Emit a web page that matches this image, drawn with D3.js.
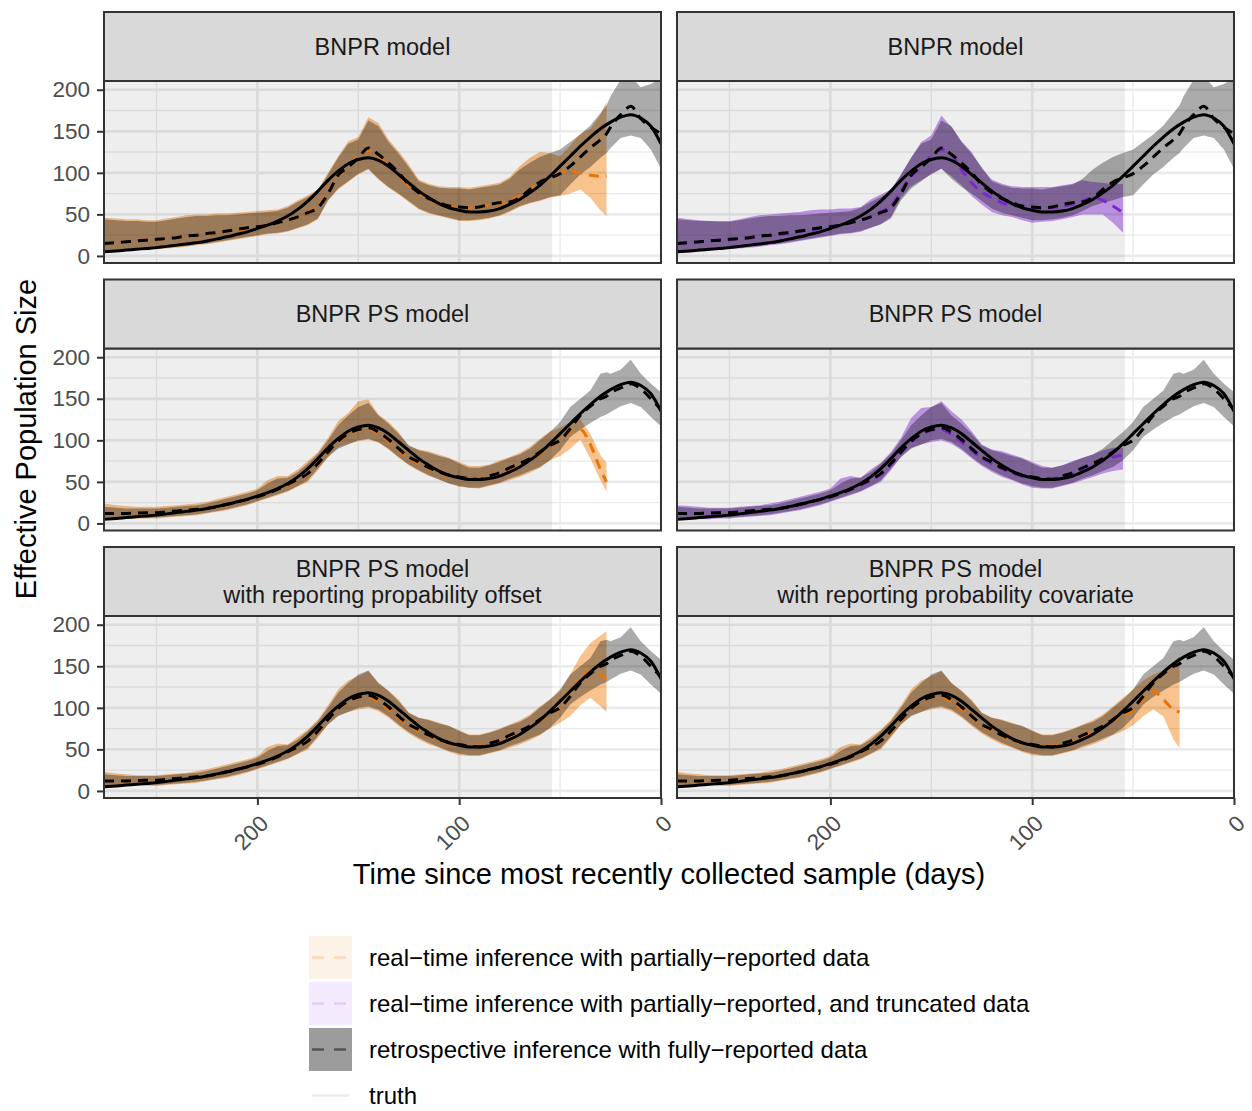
<!DOCTYPE html>
<html><head><meta charset="utf-8">
<script src="https://cdn.jsdelivr.net/npm/d3@7"></script>
<style>
body{margin:0;background:#fff;}
svg{display:block;font-family:"Liberation Sans",Arial,Helvetica,sans-serif;}
</style></head><body>
<svg id="chart" width="1252" height="1111"></svg>
<script>
// ---------------- DATA (days before most recent sample) ----------------
const days = [276,270,265,260,255,250,245,240,235,230,225,220,215,210,205,200,195,190,185,180,175,170,165,160,155,150,145,140,135,130,125,120,115,110,105,100,95,90,85,80,75,70,65,60,55,50,45,40,35,30,27,25,20,15,10,5,0];

const truth = [5,6,7,8,9,10,11.5,13,14.5,16, 18,20.5,23,26,29,33,37,42,48,56, 66,78,91,102,111,116,118,115,108,98, 88,78,70,63,58,55,53,53,54,57, 62,68,76,85,96,108,120,132,143,153, 158,161,167,170,166,156,135];

// retrospective inference, BNPR model (fully-reported data)
const retroBNPR     = [15,16,17,18,19,20,21,22,24,25, 27,28,30,32,34,35,37,40,43,47, 52,58,75,97,107,118,130,122,112,100, 86,76,69,64,60,59,58,59,62,64, 65,70,80,89,94,99,108,119,130,140, 147,155,170,180,165,155,147];
const retroBNPRLow  = [5,6,7,8,8,9,10,11,12,14, 15,17,19,21,23,25,27,28,30,34, 38,45,67,81,90,99,105,93,83,75, 66,57,52,49,46,43,43,44,46,49, 54,60,64,67,71,73,86,98,107,118, 124,130,142,145,142,128,105];
const retroBNPRHigh = [44,43,42,42,41,41,43,45,47,48, 48,49,49,50,51,52,53,54,58,65, 71,78,98,118,135,140,163,156,137,123, 107,90,85,82,81,81,80,82,84,86, 93,104,112,119,124,128,137,146,157,172, 181,192,212,216,203,207,214];

// retrospective inference, BNPR PS model (fully-reported data)
const retroPS     = [12,12,12,12.5,13,13,14,15,16,17, 18,20,23,26,29,32,36,41,47,53, 60,72,86,99,108,113,115,110,101,90, 80,74,67,62,58,56,54,53,57,61, 67,72,78,86,94,100,114,130,141,150, 153,157,163,168,162,150,137];
const retroPSLow  = [7,7,7,7,7,7,8,9,10,11, 13,15,17,20,23,27,31,35,39,45, 52,66,80,90,95,100,102,98,90,80, 71,64,58,53,48,45,43,43,46,49, 54,58,63,68,76,88,104,113,121,128, 131,134,141,145,140,128,117];
const retroPSHigh = [20,19,18,18,18,18,19,20,21,22, 24,27,30,33,36,40,48,54,55,62, 72,84,100,118,130,140,145,130,120,108, 94,88,85,81,78,72,67,67,70,74, 79,83,90,100,110,122,140,150,160,180, 182,180,185,197,180,168,158];

// real-time inference, BNPR (partially-reported) - top left
const rtBNPR     = [15,16,17,18,19,20,21,22,23,25, 26,28,30,31,33,35,37,40,43,47, 53,60,78,96,108,120,127,120,108,97, 85,76,68,63,60,58,58,59,61,63, 66,72,80,89,93,100,102,100,97,96, 96];
const rtBNPRLow  = [4,5,6,7,7,8,9,10,11,13, 14,16,18,20,22,24,26,27,29,33, 37,44,66,80,89,98,104,92,82,74, 65,56,51,48,45,42,42,43,45,48, 53,59,63,66,70,72,75,80,70,55, 48];
const rtBNPRHigh = [46,45,44,44,43,43,45,47,49,50, 50,51,51,52,53,54,55,56,60,67, 73,80,100,120,138,143,167,160,140,126, 110,92,87,84,83,83,82,84,86,88, 95,108,118,125,124,120,133,147,153,170, 185];

// real-time inference, BNPR (partially-reported and truncated) - top right
const rtBNPRTr     = [15,16,17,18,19,20,21,22,23,25, 26,28,30,31,33,35,37,40,43,47, 53,60,78,96,108,120,128,122,104,88, 77,70,64,61,59,58,58,58,60,62, 66,70,67,60,52];
const rtBNPRTrLow  = [3,4,5,6,7,8,9,10,11,13, 14,16,18,20,22,24,26,27,29,34, 38,47,70,84,91,98,105,96,85,72, 62,53,49,47,43,40,41,42,44,47, 50,50,50,40,28];
const rtBNPRTrHigh = [46,44,43,42,42,42,44,47,49,50, 51,52,53,55,56,56,57,57,59,68, 74,80,98,118,137,145,169,155,138,125, 105,92,87,84,83,83,83,83,85,87, 91,89,88,86,87];

// real-time inference, BNPR PS (partially-reported) - middle left
const rtPS     = [12,12,12,12.5,13,13,14,15,16,17, 18,20,23,26,29,32,36,41,46,52, 59,71,85,98,107,112,113,108,99,88, 79,72,66,61,57,55,54,54,57,60, 65,70,76,84,92,100,110,113,95,65, 50];
const rtPSLow  = [6,6,6,6,6,6,7,8,9,10, 12,14,16,19,22,26,30,34,38,44, 50,64,80,92,96,99,101,97,89,79, 70,63,57,53,48,44,43,42,45,48, 52,56,61,67,76,81,90,101,78,52, 38];
const rtPSHigh = [24,22,21,20,20,20,21,22,23,24, 26,29,32,35,38,42,52,57,57,65, 75,86,103,123,133,147,149,131,122,110, 93,89,87,83,79,74,69,69,71,76, 80,85,92,102,111,115,122,125,108,82, 73];

// real-time inference, BNPR PS (partially-reported and truncated) - middle right
const rtPSTr     = [12,12,12,12.5,13,13,14,15,16,17, 18,20,23,26,29,32,36,41,46,52, 59,71,85,98,107,112,113,107,98,88, 79,72,66,61,57,55,54,54,56,59, 64,69,75,80,82];
const rtPSTrLow  = [5,5,5,5,6,6,7,8,9,10, 12,14,16,19,22,26,30,34,38,44, 50,64,80,91,95,98,100,96,88,78, 69,62,56,52,47,43,42,42,45,48, 52,56,60,63,65];
const rtPSTrHigh = [22,21,20,19,19,19,20,21,22,24, 26,29,32,35,38,42,54,57,55,65, 73,86,103,127,139,140,147,135,125,111, 95,89,87,83,79,74,69,67,70,75, 79,83,88,91,91];

// real-time inference, BNPR PS with reporting probability offset - bottom left
const rtOff     = [12,12,12,12.5,13,13,14,15,16,17, 18,20,23,26,29,32,36,41,46,52, 59,71,85,98,107,112,113,107,98,88, 79,72,66,61,57,55,54,54,57,60, 66,71,77,85,92,100,118,135,145,140, 135];
const rtOffLow  = [6,6,6,6,6,6,7,8,9,10, 12,14,16,19,22,26,30,34,38,44, 50,64,80,91,95,98,100,96,88,78, 69,62,56,52,47,43,42,42,45,48, 52,56,61,67,75,82,90,103,112,102, 95];
const rtOffHigh = [23,21,20,19,19,19,20,21,22,24, 26,29,32,35,38,42,53,57,56,65, 74,86,103,122,133,138,144,130,121,110, 94,88,86,82,78,73,68,68,71,75, 80,85,92,102,110,120,140,162,178,187, 192];

// real-time inference, BNPR PS with reporting probability covariate - bottom right
const rtCov     = [12,12,12,12.5,13,13,14,15,16,17, 18,20,23,26,29,32,36,41,46,52, 59,71,85,98,107,112,113,107,98,88, 79,72,66,61,57,55,54,54,57,60, 66,71,77,85,90,97,110,120,110,98, 95];
const rtCovLow  = [6,6,6,6,6,6,7,8,9,10, 12,14,16,19,22,26,30,34,38,44, 50,64,80,91,95,98,100,96,88,78, 69,62,56,52,47,43,42,42,45,48, 52,56,61,67,72,79,90,98,90,62, 52];
const rtCovHigh = [23,21,20,19,19,19,20,21,22,24, 26,29,32,35,38,42,53,57,56,65, 74,86,103,122,133,138,144,130,121,110, 94,88,86,82,78,73,68,68,71,75, 80,85,92,102,112,122,133,140,145,155, 162];

const stripLabels = [
  ["BNPR model"], ["BNPR model"],
  ["BNPR PS model"], ["BNPR PS model"],
  ["BNPR PS model","with reporting propability offset"],
  ["BNPR PS model","with reporting probability covariate"]
];
const legendLabels = [
  "real\u2212time inference with partially\u2212reported data",
  "real\u2212time inference with partially\u2212reported, and truncated data",
  "retrospective inference with fully\u2212reported data",
  "truth"
];
const yTicks = [0,50,100,150,200];
const xTicks = [200,100,0];
const shadeUntil = 54;
const xTitle = "Time since most recently collected sample (days)";
const yTitle = "Effective Population Size";

// ---------------- LAYOUT ----------------
const W=1252,H=1111;
const svg=d3.select("#chart");
svg.append("rect").attr("width",W).attr("height",H).attr("fill","#fff");
const colX=[104,677], rowY=[81,348.5,616], PW=557, PH=182, STRIP=69;
const x=d3.scaleLinear().domain([276,0]).range([0,PW]);
const y=d3.scaleLinear().domain([-8.5,210.5]).range([PH,0]);

const col={orange:{fill:"#F8C38E",line:"#E8740C"}, purple:{fill:"#C99DEF",line:"#7D26CD"}};
const grayFill="#ABABAB";

const panels=[
  {r:0,c:0,retro:[retroBNPR,retroBNPRLow,retroBNPRHigh],rt:[rtBNPR,rtBNPRLow,rtBNPRHigh],k:"orange"},
  {r:0,c:1,retro:[retroBNPR,retroBNPRLow,retroBNPRHigh],rt:[rtBNPRTr,rtBNPRTrLow,rtBNPRTrHigh],k:"purple"},
  {r:1,c:0,retro:[retroPS,retroPSLow,retroPSHigh],rt:[rtPS,rtPSLow,rtPSHigh],k:"orange"},
  {r:1,c:1,retro:[retroPS,retroPSLow,retroPSHigh],rt:[rtPSTr,rtPSTrLow,rtPSTrHigh],k:"purple"},
  {r:2,c:0,retro:[retroPS,retroPSLow,retroPSHigh],rt:[rtOff,rtOffLow,rtOffHigh],k:"orange"},
  {r:2,c:1,retro:[retroPS,retroPSLow,retroPSHigh],rt:[rtCov,rtCovLow,rtCovHigh],k:"orange"}
];

const band=(lo,hi)=>lo.map((v,i)=>({d:days[i],lo:v,hi:hi[i]}));
const pts=(vals)=>vals.map((v,i)=>({d:days[i],v:v}));
const area=d3.area().x(d=>x(d.d)).y0(d=>y(d.lo)).y1(d=>y(d.hi)).curve(d3.curveLinear);
const line=d3.line().x(d=>x(d.d)).y(d=>y(d.v)).curve(d3.curveMonotoneX);

const defs=svg.append("defs");
defs.append("clipPath").attr("id","pclip").append("rect").attr("width",PW).attr("height",PH);

panels.forEach((p,i)=>{
  const g=svg.append("g").attr("transform",`translate(${colX[p.c]},${rowY[p.r]})`);
  const pg=g.append("g").attr("clip-path","url(#pclip)").style("isolation","isolate");
  pg.append("rect").attr("width",PW).attr("height",PH).attr("fill","#fff");
  // minor grid
  [250,150,50].forEach(v=>pg.append("line").attr("x1",x(v)).attr("x2",x(v)).attr("y1",0).attr("y2",PH).attr("stroke","#EBEBEB").attr("stroke-width",1.4));
  [25,75,125,175].forEach(v=>pg.append("line").attr("x1",0).attr("x2",PW).attr("y1",y(v)).attr("y2",y(v)).attr("stroke","#EBEBEB").attr("stroke-width",1.4));
  // major grid
  xTicks.forEach(v=>pg.append("line").attr("x1",x(v)).attr("x2",x(v)).attr("y1",0).attr("y2",PH).attr("stroke","#EBEBEB").attr("stroke-width",2.7));
  yTicks.forEach(v=>pg.append("line").attr("x1",0).attr("x2",PW).attr("y1",y(v)).attr("y2",y(v)).attr("stroke","#EBEBEB").attr("stroke-width",2.7));
  // shaded period
  pg.append("rect").attr("x",x(276)).attr("width",x(shadeUntil)-x(276)).attr("y",0).attr("height",PH)
    .attr("fill","#000").attr("fill-opacity",0.065);
  // ribbons
  pg.append("path").datum(band(p.retro[1],p.retro[2])).attr("d",area).attr("fill",grayFill).style("mix-blend-mode","multiply");
  pg.append("path").datum(band(p.rt[1],p.rt[2])).attr("d",area).attr("fill",col[p.k].fill).style("mix-blend-mode","multiply");
  // lines
  pg.append("path").datum(pts(p.rt[0])).attr("d",line).attr("fill","none").attr("stroke",col[p.k].line)
    .attr("stroke-width",3).attr("stroke-dasharray","10,7");
  pg.append("path").datum(pts(p.retro[0])).attr("d",line).attr("fill","none").attr("stroke","#000")
    .attr("stroke-width",3).attr("stroke-dasharray","10,7");
  pg.append("path").datum(pts(truth)).attr("d",line).attr("fill","none").attr("stroke","#000").attr("stroke-width",3);
  // border
  g.append("rect").attr("width",PW).attr("height",PH).attr("fill","none").attr("stroke","#333").attr("stroke-width",2);
  // strip
  g.append("rect").attr("x",0).attr("y",-STRIP).attr("width",PW).attr("height",STRIP)
    .attr("fill","#D9D9D9").attr("stroke","#333").attr("stroke-width",2);
  const lab=stripLabels[i];
  const t=g.append("text").attr("text-anchor","middle").attr("font-size","23.5px").attr("fill","#1A1A1A");
  lab.forEach((s,j)=>{
    const cy=-STRIP/2+(j-(lab.length-1)/2)*26;
    t.append("tspan").attr("x",PW/2).attr("y",cy).attr("dy","0.35em").text(s);
  });
  // y axis
  if(p.c===0){
    const ay=g.append("g").call(d3.axisLeft(y).tickValues(yTicks).tickSize(7).tickPadding(7));
    ay.select(".domain").remove();
    ay.selectAll(".tick line").attr("stroke","#333").attr("stroke-width",2);
    ay.selectAll(".tick text").attr("fill","#4D4D4D").attr("font-size","22.5px")
      .attr("font-family","'Liberation Sans',Arial,sans-serif");
  }
  // x axis
  if(p.r===2){
    const ax=g.append("g").attr("transform",`translate(0,${PH})`)
      .call(d3.axisBottom(x).tickValues(xTicks).tickSize(7));
    ax.select(".domain").remove();
    ax.selectAll(".tick line").attr("stroke","#333").attr("stroke-width",2);
    ax.selectAll(".tick text").attr("fill","#4D4D4D").attr("font-size","22.5px")
      .attr("font-family","'Liberation Sans',Arial,sans-serif")
      .attr("x",0).attr("y",0).attr("dy","0.75em")
      .attr("transform","translate(0,15) rotate(-45)").style("text-anchor","end");
  }
});

// axis titles
svg.append("text").attr("x",669).attr("y",884).attr("text-anchor","middle")
  .attr("font-size","29px").attr("fill","#000").text(xTitle);
svg.append("text").attr("transform","translate(36,439) rotate(-90)").attr("text-anchor","middle")
  .attr("font-size","29px").attr("fill","#000").text(yTitle);

// legend
const keyFill=["#FDF2E6","#F4EAFD","#9C9C9C","#FFFFFF"];
const keyLine=["#FAD8BA","#E5CCF9","#555555","#EBEBEB"];
const lg=svg.append("g").attr("transform","translate(309,936)");
legendLabels.forEach((s,i)=>{
  const ky=i*46;
  lg.append("rect").attr("x",0).attr("y",ky).attr("width",43).attr("height",43).attr("fill",keyFill[i]);
  lg.append("line").attr("x1",3).attr("x2",40).attr("y1",ky+21.5).attr("y2",ky+21.5)
    .attr("stroke",keyLine[i]).attr("stroke-width",2.6)
    .attr("stroke-dasharray",i<3?"12,10":null);
  lg.append("text").attr("x",60).attr("y",ky+21.5).attr("dy","0.35em").attr("font-size","24px")
    .attr("fill","#000").text(s);
});
</script>
</body></html>
